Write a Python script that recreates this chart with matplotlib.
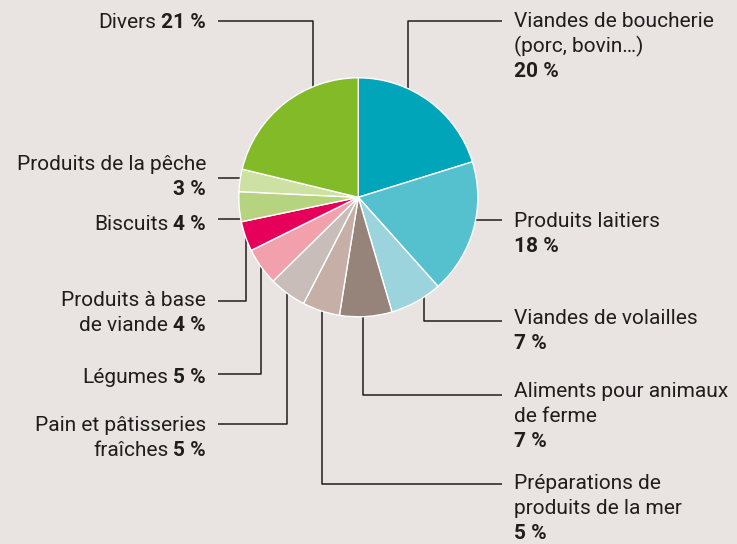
import matplotlib
matplotlib.use("Agg")
import matplotlib.pyplot as plt
import numpy as np

# Share of each product family (%)
categories = [
    "Viandes de boucherie\n(porc, bovin…)",
    "Produits laitiers",
    "Viandes de volailles",
    "Aliments pour animaux\nde ferme",
    "Préparations de\nproduits de la mer",
    "Pain et pâtisseries\nfraîches",
    "Légumes",
    "Produits à base\nde viande",
    "Biscuits",
    "Produits de la pêche",
    "Divers",
]
shares = [20, 18, 7, 7, 5, 5, 5, 4, 4, 3, 21]
colors = ["#00A5B9", "#56C1CE", "#9CD4DE", "#968379", "#C5AFA7", "#C9BDB9",
          "#F2A0AB", "#E6005A", "#B6D47F", "#CDE1A2", "#82BA28"]

# Label layout in pixel units: side, connector y, elbow x (None = straight),
# first text line centre, percentage on its own line
layout = [
    ("right", 21, 407.7, 20, True),
    ("right", 220, None, 220, True),
    ("right", 321, 424.3, 316.7, True),
    ("right", 395, 363.3, 390, True),
    ("right", 484, 322.3, 482, True),
    ("left", 424, 287.3, 424.3, False),
    ("left", 374.3, 261, 376, False),
    ("left", 301, 245.7, 299.3, False),
    ("left", 219.3, None, 222.5, False),
    ("left", 178.3, None, 163, True),
    ("left", 21, 313, 21, False),
]

W, H = 737, 544
BG = "#E9E4E1"
INK = "#1F1D1D"
FONT = "Roboto"
FS = 15
LINE_H = 25.0
cx, cy, r = 358.3, 197.3, 119.5
LEFT_TEXT_X, LEFT_LINE_X = 206, 218
RIGHT_TEXT_X, RIGHT_LINE_X = 514, 501.7

fig = plt.figure(figsize=(W / 100, H / 100), dpi=100, facecolor=BG)
ax = fig.add_axes([0, 0, 1, 1])
ax.set_facecolor(BG)

ax.pie(shares, colors=colors, startangle=-90, counterclock=True,
       center=(cx, cy), radius=r,
       wedgeprops=dict(edgecolor="white", linewidth=1.0, zorder=3))

ax.set_xlim(0, W)
ax.set_ylim(H, 0)
ax.set_aspect("equal")
ax.axis("off")

renderer = fig.canvas.get_renderer()


def text_width(t):
    bb = t.get_window_extent(renderer=renderer)
    return bb.width


def put(x, yc, s, ha, bold=False):
    return ax.text(x, yc + 7, s, ha=ha, va="baseline", fontsize=FS,
                   family=FONT, fontweight="bold" if bold else "normal",
                   color=INK, zorder=5)


for name, val, (side, ly, ex, ty, pct_line) in zip(categories, shares, layout):
    lines = name.split("\n")
    pct = f"{val} %"

    # connector
    if side == "left":
        if ex is None:
            xe = cx - np.sqrt(r ** 2 - (ly - cy) ** 2)
            xs, ys = [LEFT_LINE_X, xe], [ly, ly]
        else:
            dy = np.sqrt(r ** 2 - (ex - cx) ** 2)
            ye = cy - dy if ly < cy else cy + dy
            xs, ys = [LEFT_LINE_X, ex, ex], [ly, ly, ye]
    else:
        if ex is None:
            xe = cx + np.sqrt(r ** 2 - (ly - cy) ** 2)
            xs, ys = [RIGHT_LINE_X, xe], [ly, ly]
        else:
            dy = np.sqrt(r ** 2 - (ex - cx) ** 2)
            ye = cy - dy if ly < cy else cy + dy
            xs, ys = [RIGHT_LINE_X, ex, ex], [ly, ly, ye]
    ax.plot(xs, ys, color=INK, lw=1.1, solid_capstyle="butt", zorder=2)

    # text
    if side == "right":
        for i, ln in enumerate(lines):
            put(RIGHT_TEXT_X, ty + i * LINE_H, ln, "left")
        put(RIGHT_TEXT_X, ty + len(lines) * LINE_H, pct, "left", bold=True)
    else:
        if pct_line:
            for i, ln in enumerate(lines):
                put(LEFT_TEXT_X, ty + i * LINE_H, ln, "right")
            put(LEFT_TEXT_X, ty + len(lines) * LINE_H, pct, "right", bold=True)
        else:
            for i, ln in enumerate(lines[:-1]):
                put(LEFT_TEXT_X, ty + i * LINE_H, ln, "right")
            yl = ty + (len(lines) - 1) * LINE_H
            b = put(LEFT_TEXT_X, yl, pct, "right", bold=True)
            wb = text_width(b)
            put(LEFT_TEXT_X - wb - 5, yl, lines[-1], "right")

fig.savefig("out.png", dpi=100, facecolor=BG)
